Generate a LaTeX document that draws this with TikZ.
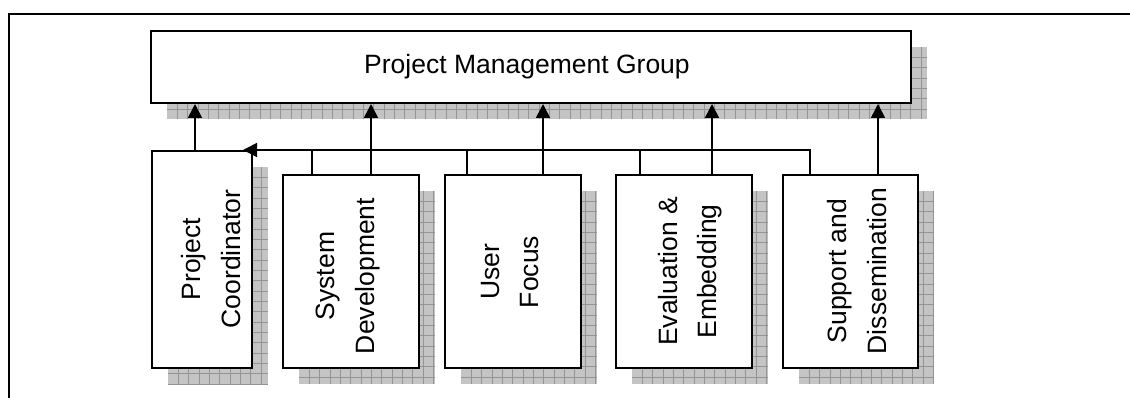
\documentclass[tikz,border=0pt]{standalone}
\usepackage{fontspec}
\setmainfont{Liberation Sans}
\usetikzlibrary{arrows.meta}
\newcommand\myshadow[4]{%
  \fill[shadowfill] (#1,#2) rectangle (#3,#4);
  \begin{scope}
    \clip (#1,#2) rectangle (#3,#4);
    \foreach \k in {1,...,75} {\draw[shadowline] ({#1+10.33*\k},#2) -- ({#1+10.33*\k},#4);}
    \foreach \k in {1,...,22} {\draw[shadowline] (#1,{#2+10.33*\k}) -- (#3,{#2+10.33*\k});}
  \end{scope}}
\begin{document}
\begin{tikzpicture}[x=1pt,y=-1pt,
  shadowfill/.style={fill=black!23},
  shadowline/.style={draw=black!42,line width=0.7pt},
  box/.style={draw,line width=2pt,fill=white,rectangle,inner sep=0pt},
  conn/.style={line width=1.6pt},
  arr/.style={conn,-{Triangle[length=14pt,width=14pt]}},
  txt/.style={inner sep=0pt,font=\fontsize{26.5}{39.3}\selectfont},
  lbl/.style={txt,rotate=90,align=center}]
\useasboundingbox (0,0) rectangle (1130,398);
% outer frame
\draw[line width=2pt] (8.5,398) -- (8.5,14) -- (1130,14);
% shadows
\myshadow{167}{47}{927}{119}
\myshadow{168}{167}{268}{384}
\myshadow{299}{191}{435}{384}
\myshadow{461}{191}{597}{384}
\myshadow{632}{191}{768}{384}
\myshadow{799}{191}{934}{384}
% boxes
\node[box,minimum width=760pt,minimum height=72pt] (pmg) at (531,67) {};
\node[txt] (pmgl) at (527,67) {Project Management Group};
\node[box,minimum width=100pt,minimum height=217pt] (pc) at (202,259.5) {};
\node[box,minimum width=136pt,minimum height=193pt] (sd) at (351,271.5) {};
\node[box,minimum width=136pt,minimum height=193pt] (uf) at (513,271.5) {};
\node[box,minimum width=136pt,minimum height=193pt] (ee) at (684,271.5) {};
\node[box,minimum width=135pt,minimum height=193pt] (su) at (850.5,271.5) {};
% labels
\node[lbl] (pcl) at (211,259) {Project\\Coordinator};
\node[lbl] (sdl) at (348,276) {System\\Development};
\node[lbl] (ufl) at (510,272) {User\\Focus};
\node[lbl] (eel) at (690,271.5) {Evaluation \&\\Embedding};
\node[lbl] (sul) at (857,271) {Support and\\Dissemination};
% bus
\coordinate (bustip) at ([xshift=-10pt]pc.north east);
\draw[arr] ([xshift=28pt]su.north west) |- (bustip);
\draw[conn] ([xshift=30pt]sd.north west) -- ([xshift=30pt]sd.north west |- bustip);
\draw[conn] ([xshift=23pt]uf.north west) -- ([xshift=23pt]uf.north west |- bustip);
\draw[conn] ([xshift=25pt]ee.north west) -- ([xshift=25pt]ee.north west |- bustip);
% arrows up
\draw[arr] ([xshift=44pt]pc.north west) -- ([xshift=44pt]pc.north west |- pmg.south);
\draw[arr] ([xshift=89pt]sd.north west) -- ([xshift=89pt]sd.north west |- pmg.south);
\draw[arr] ([xshift=99pt]uf.north west) -- ([xshift=99pt]uf.north west |- pmg.south);
\draw[arr] ([xshift=97pt]ee.north west) -- ([xshift=97pt]ee.north west |- pmg.south);
\draw[arr] ([xshift=96pt]su.north west) -- ([xshift=96pt]su.north west |- pmg.south);
\end{tikzpicture}
\end{document}
